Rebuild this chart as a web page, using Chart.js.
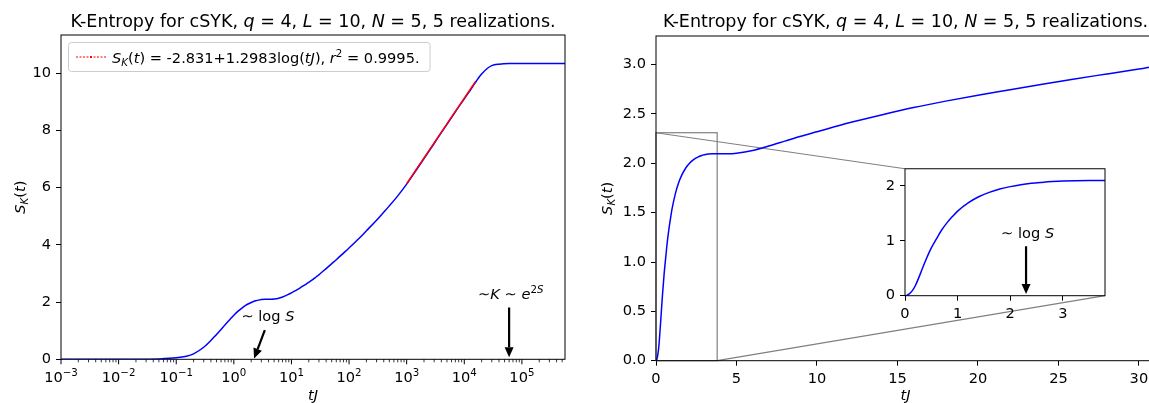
<!DOCTYPE html>
<html>
<head>
<meta charset="utf-8">
<script src="https://cdn.jsdelivr.net/npm/chart.js@4.4.1/dist/chart.umd.min.js"></script>
<style>
  html, body { margin: 0; padding: 0; background: #fff; overflow: hidden; }
  body { width: 1149px; height: 403px; position: relative; }
  canvas { position: absolute; }
</style>
</head>
<body>
<canvas id="leftChart" width="580" height="403" style="left:0;top:0"></canvas>
<canvas id="rightChart" width="600" height="403" style="left:580px;top:0"></canvas>
<canvas id="insetChart" width="235" height="175" style="left:880px;top:155px"></canvas>
<script>
const FONT = '"DejaVu Sans", sans-serif';
const TICK = 14.6;
const TITLE = 17.5;

// K-entropy vs tJ
const tVals = [0, 0.001, 0.01, 0.02, 0.03, 0.05, 0.1, 0.15, 0.2, 0.3, 0.4, 0.5, 0.6, 0.7, 0.8,
  0.9, 1.0, 1.2, 1.4, 1.6, 1.8, 2.0, 2.2, 2.4, 2.6, 2.8, 3.0, 3.5, 4.0, 4.5, 5.0, 6, 7, 8, 9,
  10, 12, 14, 16, 18, 20, 22, 24, 26, 28, 30, 31, 40, 50, 60, 80, 100, 150, 200, 300,
  400, 500, 700, 1000, 1500, 2000, 3000, 4000, 5000, 7000, 10000, 12500, 15000, 17500, 20000,
  25000, 30000, 40000, 60000, 100000, 560000];
const sVals = [0, 0, 0.0005, 0.002, 0.0045, 0.0125, 0.05, 0.105, 0.19, 0.42, 0.66, 0.87, 1.04, 1.20, 1.33,
  1.44, 1.54, 1.69, 1.80, 1.88, 1.94, 1.985, 2.02, 2.045, 2.062, 2.076, 2.086, 2.096, 2.097, 2.097, 2.103, 2.13, 2.175, 2.225, 2.275,
  2.32, 2.41, 2.49, 2.565, 2.63, 2.69, 2.745, 2.80, 2.855, 2.905, 2.955, 2.98, 3.17, 3.34, 3.48, 3.71, 3.89, 4.23, 4.49, 4.86,
  5.14, 5.36, 5.71, 6.12, 6.64, 7.01, 7.54, 7.92, 8.21, 8.65, 9.10, 9.38, 9.62, 9.82, 9.97,
  10.16, 10.26, 10.31, 10.33, 10.33, 10.33];

// fitted line S_K(t) = -2.831 + 1.2983 log(tJ)
const fitT = [1000, 15600];
const fitS = [6.137, 9.70];

// axis limits
const leftX = [1e-3, 5.6e5];
const leftY = [0, 11.33];
const rightX = [0, 31];
const rightY = [0, 3.29];
const insetX = [0, 3.8];
const insetY = [0, 2.31];

// text runs: [text, style]  style: n, i, sub, isub, sup, isup
const titleRuns = [['K-Entropy for cSYK, ', 'n'], ['q', 'i'], [' = 4, ', 'n'], ['L', 'i'], [' = 10, ', 'n'],
  ['N', 'i'], [' = 5, 5 realizations.', 'n']];
const yLabelRuns = [['S', 'i'], ['K', 'isub'], ['(', 'n'], ['t', 'i'], [')', 'n']];
const xLabelRuns = [['tJ', 'i']];
const legendRuns = [['S', 'i'], ['K', 'isub'], ['(', 'n'], ['t', 'i'], [') = ', 'n'], ['-2.831+1.2983log(', 'n'],
  ['tJ', 'i'], ['), ', 'n'], ['r', 'i'], ['2', 'sup'], [' = ', 'n'], ['0.9995.', 'n']];
const logSRuns = [['\u223C ', 'n'], ['log ', 'n'], ['S', 'i']];
const kRuns = [['\u223C', 'n'], ['K', 'i'], [' \u223C ', 'n'], ['e', 'i'], ['2', 'sup'], ['S', 'isup']];

// annotations, in data coordinates
const leftNotes = [
  { runs: logSRuns, at: [3.9, 1.34], tail: [3.45, 1.02], tip: [2.25, 0.03] },
  { runs: kRuns, at: [6.4e4, 2.09], tail: [6.0e4, 1.81], tip: [6.0e4, 0.07] }
];
const insetNotes = [
  { runs: logSRuns, at: [2.33, 1.05], tail: [2.30, 0.9], tip: [2.30, 0.03] }
];

function drawRich(ctx, runs, x, y, align, size) {
  const parts = runs.map(([txt, st]) => {
    const small = st.endsWith('sub') || st.endsWith('sup');
    const fs = small ? size * 0.7 : size;
    const font = (st.startsWith('i') ? 'italic ' : '') + fs + 'px ' + FONT;
    ctx.font = font;
    const dy = st.endsWith('sub') ? size * 0.22 : st.endsWith('sup') ? -size * 0.42 : 0;
    return { txt, font, dy, w: ctx.measureText(txt).width };
  });
  const total = parts.reduce((s, p) => s + p.w, 0);
  let cx = align === 'center' ? x - total / 2 : align === 'right' ? x - total : x;
  ctx.textAlign = 'left';
  ctx.textBaseline = 'alphabetic';
  ctx.fillStyle = '#000';
  parts.forEach(p => {
    ctx.font = p.font;
    ctx.fillText(p.txt, cx, y + p.dy);
    cx += p.w;
  });
  return total;
}

function drawArrow(ctx, x1, y1, x2, y2) {
  const ang = Math.atan2(y2 - y1, x2 - x1);
  const hl = 10, hw = 4.5;
  const bx = x2 - hl * Math.cos(ang), by = y2 - hl * Math.sin(ang);
  ctx.strokeStyle = '#000';
  ctx.fillStyle = '#000';
  ctx.lineWidth = 2.2;
  ctx.beginPath();
  ctx.moveTo(x1, y1);
  ctx.lineTo(bx, by);
  ctx.stroke();
  ctx.beginPath();
  ctx.moveTo(x2, y2);
  ctx.lineTo(bx + hw * Math.sin(ang), by - hw * Math.cos(ang));
  ctx.lineTo(bx - hw * Math.sin(ang), by + hw * Math.cos(ang));
  ctx.closePath();
  ctx.fill();
}

function toPx(chart, v) {
  return [chart.scales.x.getPixelForValue(v[0]), chart.scales.y.getPixelForValue(v[1])];
}

function drawLogTicks(chart) {
  const ctx = chart.ctx, xs = chart.scales.x, a = chart.chartArea;
  const lo = Math.floor(Math.log10(xs.min)), hi = Math.ceil(Math.log10(xs.max));
  ctx.strokeStyle = '#000';
  for (let e = lo; e <= hi; e++) {
    for (let k = 1; k <= 9; k++) {
      const v = k * Math.pow(10, e);
      if (v < xs.min * 0.999 || v > xs.max * 1.001) continue;
      const x = xs.getPixelForValue(v);
      ctx.lineWidth = k === 1 ? 1 : 0.8;
      ctx.beginPath();
      ctx.moveTo(x, a.bottom);
      ctx.lineTo(x, a.bottom + (k === 1 ? 5 : 3));
      ctx.stroke();
      if (k === 1) {
        const ex = e < 0 ? '\u2212' + (-e) : String(e);
        drawRich(ctx, [['10', 'n'], [ex, 'sup']], x, a.bottom + 22.5, 'center', TICK);
      }
    }
  }
}

function decor(cfg) {
  return {
    id: 'decor',
    beforeDraw(chart) {
      if (cfg.whiteBg) {
        const a = chart.chartArea;
        chart.ctx.fillStyle = '#fff';
        chart.ctx.fillRect(a.left, a.top, a.right - a.left, a.bottom - a.top);
      }
    },
    beforeDatasetsDraw(chart) {
      if (cfg.zoomMark) cfg.zoomMark(chart);
    },
    afterDraw(chart) {
      const ctx = chart.ctx, a = chart.chartArea;
      ctx.save();
      ctx.strokeStyle = '#000';
      ctx.lineWidth = 1;
      ctx.strokeRect(a.left, a.top, a.right - a.left, a.bottom - a.top);
      if (cfg.logTicks) drawLogTicks(chart);
      (cfg.notes || []).forEach(n => {
        const [tx, ty] = toPx(chart, n.at);
        drawRich(ctx, n.runs, tx, ty, 'center', TICK);
        const [x1, y1] = toPx(chart, n.tail);
        const [x2, y2] = toPx(chart, n.tip);
        drawArrow(ctx, x1, y1, x2, y2);
      });
      if (cfg.legend) {
        const bx = a.left + 7, by = a.top + 7;
        const tw = drawRich(ctx, legendRuns, -1000, -1000, 'left', TICK);
        const bw = 44 + tw + 10, bh = 29;
        ctx.beginPath();
        ctx.roundRect(bx + 0.5, by + 0.5, bw, bh, 3);
        ctx.fillStyle = 'rgba(255,255,255,0.8)';
        ctx.fill();
        ctx.strokeStyle = '#cccccc';
        ctx.lineWidth = 1;
        ctx.stroke();
        ctx.strokeStyle = '#ff0000';
        ctx.lineWidth = 1;
        ctx.setLineDash([2, 1.5]);
        ctx.beginPath();
        ctx.moveTo(bx + 8, by + 15);
        ctx.lineTo(bx + 38, by + 15);
        ctx.stroke();
        ctx.setLineDash([]);
        ctx.fillStyle = '#ff0000';
        ctx.fillRect(bx + 22, by + 14, 2, 2);
        drawRich(ctx, legendRuns, bx + 44, by + 21, 'left', TICK);
      }
      if (cfg.title) {
        drawRich(ctx, titleRuns, (a.left + a.right) / 2, 27, 'center', TITLE);
      }
      if (cfg.ylabelGap) {
        ctx.save();
        ctx.translate(a.left - cfg.ylabelGap, (a.top + a.bottom) / 2);
        ctx.rotate(-Math.PI / 2);
        drawRich(ctx, yLabelRuns, 0, 0, 'center', TICK);
        ctx.restore();
      }
      if (cfg.xlabelY) {
        drawRich(ctx, xLabelRuns, (a.left + a.right) / 2, cfg.xlabelY, 'center', TICK);
      }
      ctx.restore();
    }
  };
}

function points(filter) {
  return tVals.map((t, i) => ({ x: t, y: sVals[i] })).filter(p => filter(p.x));
}

function blueLine(data) {
  return { data, borderColor: '#0000ff', borderWidth: 1.5, pointRadius: 0, cubicInterpolationMode: 'monotone' };
}

function linAxis(range, step, fmt, fit) {
  return {
    type: 'linear', min: range[0], max: range[1],
    ticks: { stepSize: step, includeBounds: false, font: { family: 'DejaVu Sans', size: TICK }, color: '#000',
      padding: 5, maxRotation: 0, callback: fmt },
    grid: { drawOnChartArea: false, drawTicks: true, tickLength: 5, color: '#000', tickWidth: 1 },
    border: { display: false },
    afterFit: fit
  };
}

const baseOpts = {
  responsive: false, animation: false, events: [],
  plugins: { legend: { display: false }, tooltip: { enabled: false } }
};

// inset first, the zoom marks on the right chart need its box
const insetChart = new Chart(document.getElementById('insetChart'), {
  type: 'line',
  data: { datasets: [blueLine(points(t => t <= 5))] },
  options: Object.assign({}, baseOpts, {
    layout: { padding: { top: 11, right: 10, left: 0, bottom: 0 } },
    scales: {
      x: linAxis(insetX, 1, v => String(v), s => { s.height = 175 - 140.7; }),
      y: linAxis(insetY, 1, v => String(v), s => { s.width = 25; })
    }
  }),
  plugins: [decor({ whiteBg: true, notes: insetNotes })]
});

const rightChart = new Chart(document.getElementById('rightChart'), {
  type: 'line',
  data: { datasets: [blueLine(points(t => t <= 40))] },
  options: Object.assign({}, baseOpts, {
    layout: { padding: { top: 36, right: 25, left: 0, bottom: 0 } },
    scales: {
      x: linAxis(rightX, 5, v => String(v), s => { s.height = 403 - 360.7; }),
      y: linAxis(rightY, 0.5, v => v.toFixed(1), s => { s.width = 76; })
    }
  }),
  plugins: [decor({
    title: true, ylabelGap: 44, xlabelY: 400,
    zoomMark(chart) {
      const ctx = chart.ctx;
      const [x0, y0] = toPx(chart, [insetX[0], insetY[0]]);
      const [x1, y1] = toPx(chart, [insetX[1], insetY[1]]);
      const r1 = chart.canvas.getBoundingClientRect();
      const r2 = insetChart.canvas.getBoundingClientRect();
      const dx = r2.left - r1.left, dy = r2.top - r1.top;
      const ia = insetChart.chartArea;
      ctx.save();
      ctx.strokeStyle = '#808080';
      ctx.lineWidth = 1.2;
      ctx.strokeRect(x0, y1, x1 - x0, y0 - y1);
      ctx.beginPath();
      ctx.moveTo(x0, y1);
      ctx.lineTo(ia.left + dx, ia.top + dy);
      ctx.moveTo(x1, y0);
      ctx.lineTo(ia.right + dx, ia.bottom + dy);
      ctx.stroke();
      ctx.restore();
    }
  })]
});

const leftChart = new Chart(document.getElementById('leftChart'), {
  type: 'line',
  data: {
    datasets: [
      { data: fitT.map((t, i) => ({ x: t, y: fitS[i] })), borderColor: '#ff0000', borderWidth: 1.5, pointRadius: 0 },
      blueLine(points(t => t > 0))
    ]
  },
  options: Object.assign({}, baseOpts, {
    layout: { padding: { top: 35, right: 15, left: 0, bottom: 0 } },
    scales: {
      x: {
        type: 'logarithmic', min: leftX[0], max: leftX[1],
        ticks: { display: false }, grid: { display: false }, border: { display: false },
        afterFit: s => { s.height = 403 - 359.3; }
      },
      y: linAxis(leftY, 2, v => String(v), s => { s.width = 61; })
    }
  }),
  plugins: [decor({ title: true, ylabelGap: 36, xlabelY: 400, logTicks: true, legend: true, notes: leftNotes })]
});
</script>
</body>
</html>
